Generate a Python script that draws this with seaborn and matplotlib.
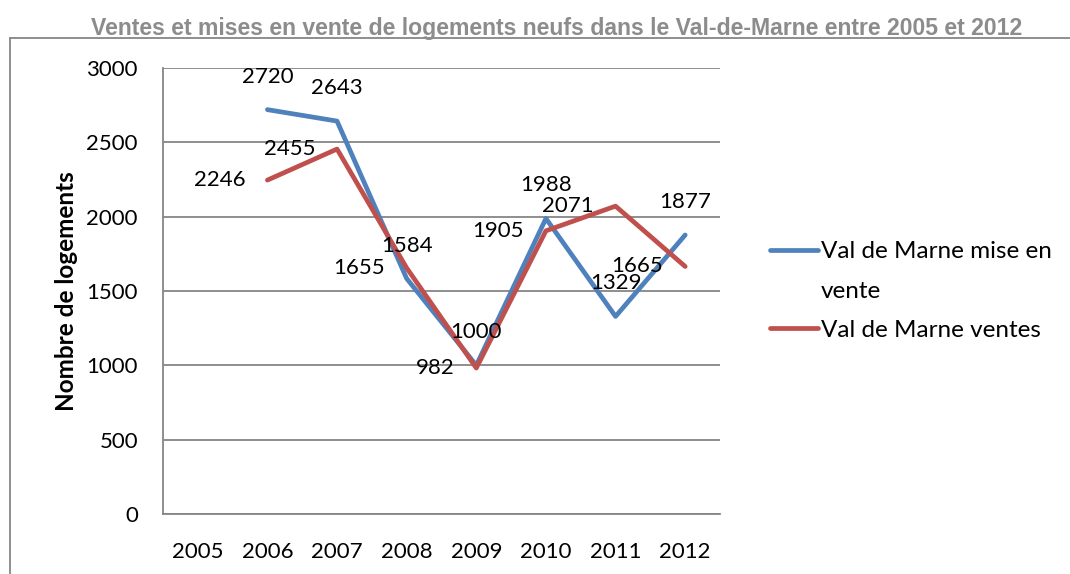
import numpy as np
import pandas as pd
import matplotlib
matplotlib.use("Agg")
import matplotlib.pyplot as plt
import seaborn as sns

# data (2005 has no value)
years = ["2005", "2006", "2007", "2008", "2009", "2010", "2011", "2012"]
mise_en_vente = [np.nan, 2720, 2643, 1584, 1000, 1988, 1329, 1877]
ventes = [np.nan, 2246, 2455, 1655, 982, 1905, 2071, 1665]
series_names = ["Val de Marne mise en vente", "Val de Marne ventes"]
yticks = [0, 500, 1000, 1500, 2000, 2500, 3000]

df = pd.DataFrame({
    "year": years * 2,
    "x": list(range(len(years))) * 2,
    "value": mise_en_vente + ventes,
    "serie": [series_names[0]] * len(years) + [series_names[1]] * len(years),
})

sns.set_theme(style="white")
plt.rcParams["font.family"] = ["Lato", "DejaVu Sans"]
plt.rcParams["text.color"] = "black"

BLUE = "#4F81BD"
RED = "#C0504D"
GREY = "#868686"

fig = plt.figure(figsize=(10.7, 5.74), dpi=100)
ax = fig.add_axes([0.1523, 0.1045, 0.5206, 0.777])

sns.lineplot(data=df, x="x", y="value", hue="serie", palette=[BLUE, RED],
             linewidth=3.4, ax=ax, legend=True, sort=False)

ax.set_xlim(-0.5, len(years) - 0.5)
ax.set_ylim(0, 3000)
ax.set_xticks(range(len(years)))
ax.set_xticklabels(years)
ax.set_yticks(yticks)
ax.tick_params(axis="both", length=0, labelsize=16, colors="black")
ax.tick_params(axis="x", pad=20)
ax.tick_params(axis="y", pad=18)
ax.grid(axis="y", color=GREY, linewidth=1.3)
ax.set_axisbelow(True)
for side in ["top", "right"]:
    ax.spines[side].set_visible(False)
for side in ["left", "bottom"]:
    ax.spines[side].set_color(GREY)
    ax.spines[side].set_linewidth(1.3)
ax.set_xlabel("")
ax.set_ylabel("Nombre de logements", fontsize=17.5, fontweight="bold", labelpad=6,
              color="black")

# data labels: blue above the point, red to the left
for i, v in enumerate(mise_en_vente):
    if not np.isnan(v):
        ax.annotate(f"{int(v)}", (i, v), xytext=(0, 33), textcoords="offset pixels",
                    ha="center", va="center", fontsize=16)
for i, v in enumerate(ventes):
    if not np.isnan(v):
        ax.annotate(f"{int(v)}", (i, v), xytext=(-22, 0), textcoords="offset pixels",
                    ha="right", va="center", fontsize=16)

# legend: the long name wraps, the line stays beside its first text line,
# so the wrapped word gets its own entry with an empty handle
handles, labels = ax.get_legend_handles_labels()
blank = plt.Line2D([], [], color="none")
first, rest = series_names[0].rsplit(" ", 1)
leg = ax.legend([handles[0], blank, handles[1]], [first, rest, labels[1]],
                loc="center left", bbox_to_anchor=(1.05, 0.5), frameon=False,
                fontsize=17.5, handlelength=2.0, handletextpad=0.1, labelspacing=0.75)

fig.text(0.52, 0.95, "Ventes et mises en vente de logements neufs dans le Val-de-Marne entre 2005 et 2012",
         ha="center", va="center", fontsize=16.6, fontweight="bold", color="#8C8C8C",
         family=["Liberation Sans", "DejaVu Sans"])

# outer chart frame
fig.add_artist(plt.Line2D([10 / 1070, 1.0], [1 - 38 / 574, 1 - 38 / 574], color=GREY, linewidth=1.3))
fig.add_artist(plt.Line2D([10 / 1070, 10 / 1070], [0, 1 - 38 / 574], color=GREY, linewidth=1.3))

fig.savefig("out.png", dpi=100)
